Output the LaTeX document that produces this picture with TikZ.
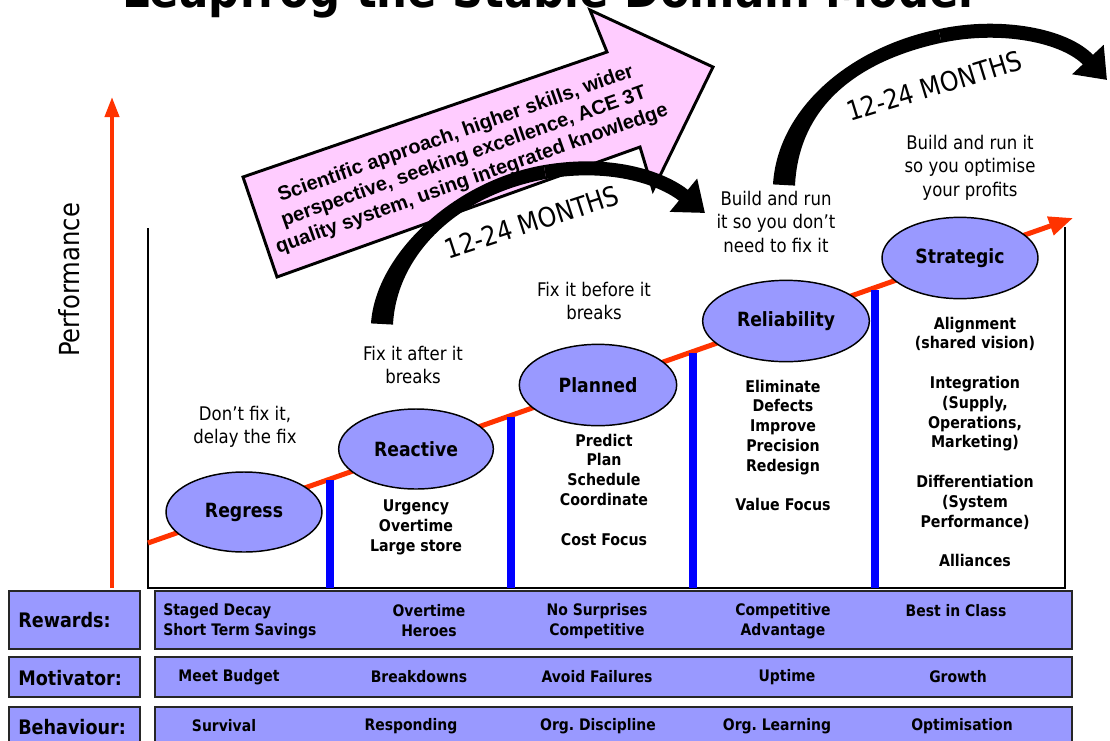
\documentclass[tikz,border=0pt]{standalone}
\usepackage{fontspec}
\setmainfont{DejaVu Sans}[FakeStretch=0.88]
\newfontfamily\arialfont{Liberation Sans}
\usetikzlibrary{arrows.meta,shapes.geometric}
\definecolor{perfred}{RGB}{255,51,0}
\definecolor{barblue}{RGB}{0,0,255}
\definecolor{lav}{RGB}{153,153,255}
\definecolor{pinkfill}{RGB}{255,204,255}
\frenchspacing
\tikzset{
  upper/.style={font=\fontsize{14.1}{17.6}\selectfont, align=center, inner sep=0pt, anchor=north},
  listtxt/.style={font=\bfseries\fontsize{12.1}{14.85}\selectfont, align=center, inner sep=0pt, anchor=north},
  stage/.style={ellipse, draw=black, fill=lav, line width=1.1pt, font=\bfseries\fontsize{14.7}{16}\selectfont, inner sep=0pt},
  rowbox/.style={draw=black!85, fill=lav, line width=1.4pt},
  rowlab/.style={font=\bfseries\fontsize{15}{16}\selectfont, anchor=west, inner sep=0pt},
  rowtxt/.style={font=\bfseries\fontsize{11.9}{15}\selectfont, align=center, inner sep=0pt},
  bluebar/.style={barblue, line width=6pt},
  trend/.style={perfred, line width=3.75pt, -{Triangle[length=18pt,width=14pt]}},
  perfaxis/.style={perfred, line width=3pt, -{Triangle[length=15pt,width=10.5pt]}},
  leapshaft/.style={fill=black},
  leaphead/.style={black, line width=10.5pt, -{Triangle[length=21pt,width=31pt]}},
  months/.style={font=\fontsize{20.3}{22}\selectfont, inner sep=0pt},
  frameline/.style={black, line width=1.1pt},
}
\begin{document}
\begin{tikzpicture}[x=0.75pt,y=-0.75pt]
\useasboundingbox (0,0) rectangle (1110,740);

% title
\node[font=\bfseries\fontsize{37}{40}\selectfont, anchor=base, inner sep=0pt] (title) at (548,7) {Leapfrog the Stable Domain Model};

% frame
\coordinate (fTL) at (148,228);
\coordinate (fBL) at (148,588);
\coordinate (fBR) at (1065,588);
\coordinate (fTR) at (1065,227);
\draw[frameline] (fTL) -- (fBL) -- (fBR) -- (fTR);

% trend line
\coordinate (tstart) at (148,543);
\coordinate (tend) at (1073,218);
\draw[trend] (tstart) -- (tend);

% blue bars
\draw[bluebar] (330,480) -- (330,588);
\draw[bluebar] (511,417) -- (511,588);
\draw[bluebar] (693,353) -- (693,588);
\draw[bluebar] (875,290) -- (875,588);

% stages
\node[stage, minimum width=117pt, minimum height=60pt] (regress) at (244,512) {Regress};
\node[stage, minimum width=116pt, minimum height=60pt] (reactive) at (416,449) {Reactive};
\node[stage, minimum width=118pt, minimum height=61pt] (planned) at (598,385) {Planned};
\node[stage, minimum width=125pt, minimum height=61pt] (reliability) at (786,321) {Reliability};
\node[stage, minimum width=117pt, minimum height=61pt] (strategic) at (960,258) {Strategic};

% upper texts
\node[upper] (t1) at (245,405.6) {Don’t fix it,\\delay the fix};
\node[upper] (t2) at (413,345.6) {Fix it after it\\breaks};
\node[upper] (t3) at (594,281.6) {Fix it before it\\breaks};
\node[upper] (t4) at (776,190.6) {Build and run\\it so you don’t\\need to fix it};
\node[upper] (t5) at (970,134.6) {Build and run it\\so you optimise\\your profits};

% lists
\node[listtxt] (l2) at (416,499.6) {Urgency\\Overtime\\Large store};
\node[listtxt] (l3) at (604,433.6) {Predict\\Plan\\Schedule\\Coordinate\\[14.85pt]Cost Focus};
\node[listtxt] (l4) at (783,379.6) {Eliminate\\Defects\\Improve\\Precision\\Redesign\\[14.85pt]Value Focus};
\node[listtxt] (l5) at (975,316.6) {Alignment\\(shared vision)\\[14.85pt]Integration\\(Supply,\\Operations,\\Marketing)\\[14.85pt]Differentiation\\(System\\Performance)\\[14.85pt]Alliances};

% pink arrow
\draw[line width=2.2pt, fill=pinkfill, line join=miter] (277,277) -- (243,177) -- (607,52) -- (590,10) -- (713,67) -- (653,190) -- (640,147) -- cycle;
\node[font=\arialfont\bfseries\fontsize{15}{18}\selectfont, align=center, rotate=19.5, inner sep=0pt] (pinktxt) at (464,157) {Scientific approach, higher skills, wider\\perspective, seeking excellence, ACE 3T\\quality system, using integrated knowledge};

% black leap arrows (tapering shaft + head)
\coordinate (a1m) at (545,172);
\coordinate (a1e) at (705,213);
\fill[leapshaft] (371,323.4) .. controls (375.5,254.4) and (453.7,180.6) .. (543.8,165.1)
  -- (546.2,178.9) .. controls (456.3,195.4) and (396.5,255.6) .. (393,324.6) -- cycle;
\draw[leaphead] (a1m) .. controls (615,160) and (665,180) .. (a1e);
\coordinate (a2m) at (940,36);
\coordinate (a2e) at (1107,80);
\fill[leapshaft] (773,184.4) .. controls (777.5,109.4) and (848.4,47.7) .. (938.6,29.2)
  -- (941.4,42.8) .. controls (851.6,62.3) and (798.5,110.6) .. (795,185.6) -- cycle;
\draw[leaphead] (a2m) .. controls (1000,23) and (1065,35) .. (a2e);

\node[months, rotate=18] (m1) at (532,222) {12-24 MONTHS};
\node[months, rotate=17] (m2) at (934,86) {12-24 MONTHS};

% performance axis
\coordinate (pbot) at (112,588);
\coordinate (ptop) at (112,97);
\draw[perfaxis] (pbot) -- (ptop);
\node[rotate=90, font=\fontsize{20.7}{22}\selectfont, inner sep=0pt] (perf) at (69,280) {Performance};

% bottom rows
\draw[rowbox] (9,591) rectangle (140,649);
\draw[rowbox] (155,591) rectangle (1072,649);
\draw[rowbox] (9,657) rectangle (140,697);
\draw[rowbox] (155,657) rectangle (1072,697);
\draw[rowbox] (9,707) rectangle (140,760);
\draw[rowbox] (155,707) rectangle (1072,760);

\node[rowlab] (rwl) at (18,620) {Rewards:};
\node[rowlab] (mol) at (18,678) {Motivator:};
\node[rowlab] (bel) at (18,727) {Behaviour:};

\node[rowtxt, anchor=west, align=left] (r1) at (163,621) {Staged Decay\\Short Term Savings};
\node[rowtxt] (r2) at (429,621) {Overtime\\Heroes};
\node[rowtxt] (r3) at (597,621) {No Surprises\\Competitive};
\node[rowtxt] (r4) at (783,621) {Competitive\\Advantage};
\node[rowtxt] (r5) at (956,611) {Best in Class};

\node[rowtxt] (m1t) at (229,677) {Meet Budget};
\node[rowtxt] (m2t) at (419,677) {Breakdowns};
\node[rowtxt] (m3t) at (597,677) {Avoid Failures};
\node[rowtxt] (m4t) at (787,677) {Uptime};
\node[rowtxt] (m5t) at (958,677) {Growth};

\node[rowtxt] (b1) at (224,726) {Survival};
\node[rowtxt] (b2) at (411,726) {Responding};
\node[rowtxt] (b3) at (598,726) {Org. Discipline};
\node[rowtxt] (b4) at (777,726) {Org. Learning};
\node[rowtxt] (b5) at (962,726) {Optimisation};
\end{tikzpicture}
\end{document}
